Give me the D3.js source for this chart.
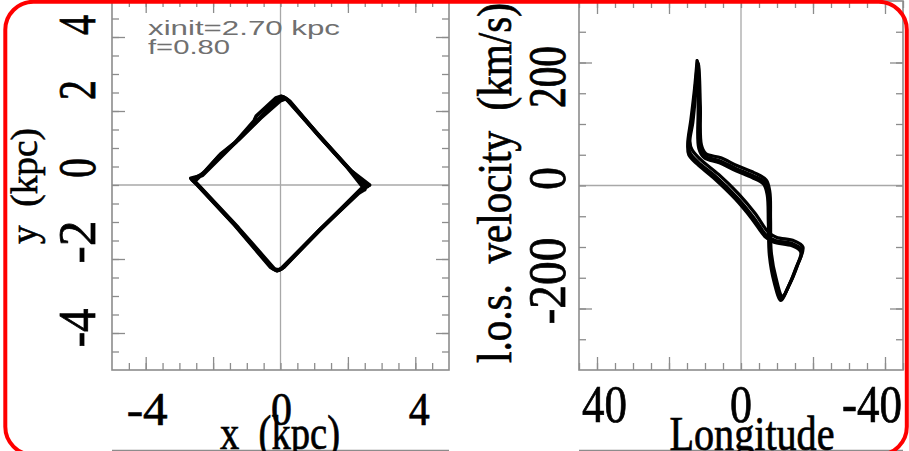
<!DOCTYPE html>
<html>
<head>
<meta charset="utf-8">
<script src="https://cdn.jsdelivr.net/npm/d3@7"></script>
<style>
  html, body { margin: 0; padding: 0; background: #fff; }
  svg { display: block; }
  .serif { font-family: "Liberation Serif", "Times New Roman", serif; fill: #000; stroke: #000; stroke-width: 0.6px; }
  .note { font-family: "Liberation Sans", Arial, sans-serif; fill: #707070; }
</style>
</head>
<body>
<svg id="chart" width="909" height="451"></svg>
<script>
// ---------------- data ----------------
// Face-on orbit (x, y in kpc): successive loops of the same trajectory
const orbitLoop1 = [
  [2.58,-0.04],[2.05,0.42],[1.15,1.32],[0.22,2.30],[0.08,2.38],[-0.08,2.32],
  [-0.66,1.76],[-1.31,1.17],[-1.82,0.78],[-2.28,0.32],[-2.62,0.14],[-2.50,0.04],
  [-1.31,-1.12],[-0.24,-2.25],[-0.10,-2.32],[0.04,-2.26],[1.16,-1.22],[2.36,-0.16],[2.58,-0.04]
];
const orbitLoop2 = [
  [2.50,-0.12],[2.00,0.46],[1.10,1.38],[0.28,2.26],[0.15,2.33],[0.00,2.28],
  [-0.60,1.80],[-1.25,1.22],[-1.78,0.83],[-2.25,0.36],[-2.55,0.10],[-2.44,0.00],
  [-1.25,-1.16],[-0.18,-2.27],[-0.05,-2.30],[0.10,-2.22],[1.20,-1.18],[2.32,-0.22],[2.50,-0.12]
];
const orbitLoop3 = [
  [2.64,0.00],[2.10,0.38],[1.20,1.28],[0.16,2.34],[0.02,2.40],[-0.14,2.35],
  [-0.72,1.86],[-0.78,1.74],[-1.35,1.14],[-2.32,0.26],[-2.66,0.18],[-2.55,0.08],
  [-1.36,-1.08],[-0.30,-2.22],[-0.14,-2.30],[0.00,-2.28],[1.12,-1.26],[2.40,-0.10],[2.64,0.00]
];

// Longitude-velocity track (deg, km/s) for the same loops
const lvLoop1 = [
  [12.1,201],[12.8,154],[13.7,105],[14.6,70],[14.2,54],[11.9,38],[6.8,13.5],[1.2,-19],
  [-3.4,-51],[-7.1,-81],[-9.4,-89],[-14.5,-95],[-16.9,-105],[-15.5,-132],[-13.1,-165],
  [-11.3,-184],[-9.4,-154],[-8.1,-111],[-7.9,-57],[-7.6,-13],[-6.7,5],[-3.4,16],[1.2,27],
  [5.8,40],[10.0,48],[11.4,62],[11.6,127],[11.9,197],[12.1,201]
];
const lvLoop2 = [
  [12.0,198],[12.6,150],[13.4,102],[14.2,72],[13.6,58],[11.2,42],[6.2,18],[0.6,-14],
  [-4.0,-46],[-7.6,-76],[-9.8,-84],[-14.8,-90],[-17.2,-100],[-15.8,-128],[-13.4,-162],
  [-11.5,-180],[-9.7,-150],[-8.4,-108],[-8.2,-55],[-8.0,-10],[-7.0,9],[-3.6,21],[1.0,32],
  [5.6,45],[9.8,52],[11.0,66],[11.3,130],[11.8,196],[12.0,198]
];
const lvLoop3 = [
  [12.2,203],[12.9,158],[13.9,108],[14.8,68],[14.5,50],[12.2,35],[7.2,10],[1.6,-22],
  [-3.0,-54],[-6.8,-84],[-9.0,-92],[-14.2,-98],[-16.6,-108],[-15.2,-135],[-12.9,-168],
  [-11.1,-187],[-9.2,-157],[-7.9,-114],[-7.6,-60],[-7.3,-16],[-6.3,2],[-3.1,13],[1.4,24],
  [6.0,37],[10.2,45],[11.7,60],[11.9,125],[12.0,199],[12.2,203]
];

// Tick labels
const xLabels   = [-4, 0, 4];
const yLabels   = [4, 2, 0, -2, -4];
const lonLabels = [40, 0, -40];
const velLabels = [200, 0, -200];

// Run parameters shown in the corner
const noteLines = ["xinit=2.70 kpc", "f=0.80"];

// ---------------- layout / style ----------------
const svg = d3.select("#chart");
const GRID = "#a8a8a8", FRAME = "#8c8c8c";

const left  = { x0: 112, x1: 449, y0: 370, y1: 0 };
const right = { x0: 579, x1: 903, y0: 370, y1: 1 };

const xS = d3.scaleLinear().domain([-5, 5]).range([left.x0, left.x1]);
const yS = d3.scaleLinear().domain([-5, 5]).range([left.y0, left.y1]);
const lS = d3.scaleLinear().domain([45, -45]).range([right.x0, right.x1]);
const vS = d3.scaleLinear().domain([-300, 300]).range([right.y0, right.y1]);

// label nudges (px) relative to tick positions
const xLabelShift   = { "-4": 1.5, "0": 1, "4": 4 };
const yLabelShift   = { "4": -12, "2": -21, "0": -17, "-2": -17, "-4": -5 };
const lonLabelShift = { "40": 7.5, "0": 0, "-40": -13 };
const velLabelShift = { "200": 14.5, "0": -7, "-200": -27.5 };
const yLabelLen     = { "-4": 39, "-2": 43 };
const velLabelLen   = { "200": 62, "0": 23, "-200": 87 };

function fmt(v) { return v < 0 ? "-" + Math.abs(v) : String(v); }

function drawFrame(p, xs, ys, xMinor, xMajor, yMinor, yMajor) {
  const g = svg.append("g");
  // zero lines
  g.append("line").attr("x1", xs(0)).attr("x2", xs(0)).attr("y1", p.y1).attr("y2", p.y0)
    .attr("stroke", GRID).attr("stroke-width", 1.3);
  g.append("line").attr("x1", p.x0).attr("x2", p.x1).attr("y1", ys(0)).attr("y2", ys(0))
    .attr("stroke", GRID).attr("stroke-width", 1.3);

  const ax = [
    [d3.axisBottom(xs).tickValues(xMinor).tickSize(-7), `translate(0,${p.y0})`],
    [d3.axisBottom(xs).tickValues(xMajor).tickSize(-13), `translate(0,${p.y0})`],
    [d3.axisTop(xs).tickValues(xMinor).tickSize(-7), `translate(0,${p.y1})`],
    [d3.axisTop(xs).tickValues(xMajor).tickSize(-13), `translate(0,${p.y1})`],
    [d3.axisLeft(ys).tickValues(yMinor).tickSize(-7), `translate(${p.x0},0)`],
    [d3.axisLeft(ys).tickValues(yMajor).tickSize(-13), `translate(${p.x0},0)`],
    [d3.axisRight(ys).tickValues(yMinor).tickSize(-7), `translate(${p.x1},0)`],
    [d3.axisRight(ys).tickValues(yMajor).tickSize(-13), `translate(${p.x1},0)`]
  ];
  ax.forEach(([a, t]) => {
    const s = g.append("g").attr("transform", t).call(a.tickFormat(""));
    s.select(".domain").remove();
    s.selectAll("line").attr("stroke", FRAME).attr("stroke-width", 1.3);
  });
  g.append("rect").attr("x", p.x0).attr("y", p.y1)
    .attr("width", p.x1 - p.x0).attr("height", p.y0 - p.y1)
    .attr("fill", "none").attr("stroke", FRAME).attr("stroke-width", 1.6);
}

const rangeStep = (a, b, s) => d3.range(a, b + s / 2, s);

drawFrame(left, xS, yS,
  rangeStep(-4.5, 4.5, 0.5), [-4, -2, 2, 4],
  rangeStep(-4.5, 4.5, 0.5), [-4, -2, 2, 4]);
drawFrame(right, lS, vS,
  rangeStep(-45, 45, 5), [-40, -20, 20, 40],
  rangeStep(-250, 250, 50), [-200, 200]);

// ---------------- curves ----------------
const orbitLine = d3.line().x(d => xS(d[0])).y(d => yS(d[1])).curve(d3.curveLinear);
[orbitLoop1, orbitLoop2, orbitLoop3].forEach(loop => {
  svg.append("path").attr("d", orbitLine(loop))
    .attr("fill", "none").attr("stroke", "#000").attr("stroke-width", 3.8)
    .attr("stroke-linejoin", "round").attr("stroke-linecap", "round");
});

const lvLine = d3.line().x(d => lS(d[0])).y(d => vS(d[1])).curve(d3.curveCatmullRom.alpha(0.5));
[lvLoop1, lvLoop2, lvLoop3].forEach(loop => {
  svg.append("path").attr("d", lvLine(loop))
    .attr("fill", "none").attr("stroke", "#000").attr("stroke-width", 3.2)
    .attr("stroke-linejoin", "round").attr("stroke-linecap", "round");
});

// ---------------- tick labels ----------------
xLabels.forEach(v => {
  const t = svg.append("text").attr("class", "serif")
    .attr("transform", `translate(${xS(v) + xLabelShift[v]},425) scale(1,1.1)`)
    .attr("text-anchor", "middle").attr("font-size", 42).text(fmt(v));
  if (v < 0) t.attr("textLength", 41).attr("lengthAdjust", "spacingAndGlyphs");
});
lonLabels.forEach(v => {
  const t = svg.append("text").attr("class", "serif")
    .attr("transform", `translate(${lS(v) + lonLabelShift[v]},422) scale(1,1.22)`)
    .attr("text-anchor", "middle").attr("font-size", 44).text(fmt(v));
  if (v === 40) t.attr("textLength", 45).attr("lengthAdjust", "spacingAndGlyphs");
  if (v === -40) t.attr("textLength", 60).attr("lengthAdjust", "spacingAndGlyphs");
});
yLabels.forEach(v => {
  const t = svg.append("text").attr("class", "serif")
    .attr("transform", `translate(95,${yS(v) + yLabelShift[v]}) rotate(-90) scale(1,1.33)`)
    .attr("text-anchor", "middle").attr("font-size", 40).text(fmt(v));
  if (yLabelLen[v]) t.attr("textLength", yLabelLen[v]).attr("lengthAdjust", "spacingAndGlyphs");
});
velLabels.forEach(v => {
  svg.append("text").attr("class", "serif")
    .attr("transform", `translate(565,${vS(v) + velLabelShift[v]}) rotate(-90) scale(1,1.3)`)
    .attr("text-anchor", "middle").attr("font-size", 40)
    .attr("textLength", velLabelLen[v]).attr("lengthAdjust", "spacingAndGlyphs")
    .text(fmt(v));
});

// ---------------- axis titles ----------------
// top frame edge of the panels in the next row
svg.append("line").attr("x1", left.x0).attr("x2", left.x1).attr("y1", 450.5).attr("y2", 450.5)
  .attr("stroke", FRAME).attr("stroke-width", 1.5);
svg.append("line").attr("x1", right.x0).attr("x2", right.x1).attr("y1", 450.5).attr("y2", 450.5)
  .attr("stroke", FRAME).attr("stroke-width", 1.5);

function title(str, tf, size, len) {
  svg.append("text").attr("class", "serif").attr("transform", tf)
    .attr("text-anchor", "middle").attr("font-size", size)
    .attr("xml:space", "preserve").style("white-space", "pre")
    .attr("textLength", len).attr("lengthAdjust", "spacingAndGlyphs").text(str);
}
title("x  (kpc)", "translate(280,449) scale(1,1.2)", 40, 120);
title("Longitude", "translate(752,450) scale(1,1.2)", 40, 165);
title("y  (kpc)", "translate(37,186) rotate(-90) scale(1,1.08)", 36, 116);
title("l.o.s.  velocity  (km/s)", "translate(511,183) rotate(-90) scale(1,1.2)", 40, 360);

// ---------------- run parameters ----------------
const noteLen = [192, 82];
noteLines.forEach((s, i) => {
  svg.append("text").attr("class", "note")
    .attr("x", 148).attr("y", 35 + i * 19).attr("font-size", 20)
    .attr("xml:space", "preserve").style("white-space", "pre")
    .attr("textLength", noteLen[i]).attr("lengthAdjust", "spacingAndGlyphs").text(s);
});

// ---------------- outer rounded border ----------------
svg.append("rect").attr("x", 5.3).attr("y", 1.8).attr("width", 901.5).attr("height", 453)
  .attr("rx", 28).attr("ry", 28)
  .attr("fill", "none").attr("stroke", "#ff0000").attr("stroke-width", 4);
</script>
</body>
</html>
